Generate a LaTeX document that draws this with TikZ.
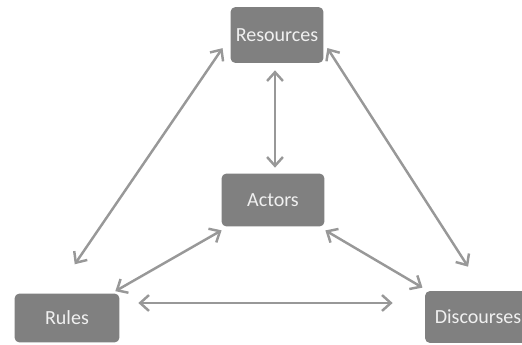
\documentclass[tikz,border=0pt]{standalone}
\usepackage{fontspec}
\setmainfont{Carlito}
\usetikzlibrary{calc,arrows.meta}

\definecolor{boxgray}{RGB}{128,128,128}
\definecolor{arrowgray}{RGB}{152,152,152}

\begin{document}
\begin{tikzpicture}[x=0.02cm, y=-0.02cm,
    box/.style={fill=boxgray, rounded corners=0.1cm, text=white!94!black,
        font=\fontsize{11.4}{13}\selectfont, inner sep=0pt},
    link/.style={draw=arrowgray, line width=1.4pt,
        {Straight Barb[length=5pt,width=9pt]}-{Straight Barb[length=5pt,width=9pt]}}]
    \useasboundingbox (0,0) rectangle (522,345);

    % Boxes
    \node[box, minimum width=1.86cm, minimum height=1.12cm] (res) at (277,35) {Resources};
    \node[box, minimum width=2.06cm, minimum height=1.06cm] (act) at (273,200) {Actors};
    \node[box, minimum width=2.10cm, minimum height=0.98cm] (rul) at (67,318) {Rules};
    \node[box, minimum width=2.12cm, minimum height=1.04cm] (dis) at (478,317) {Discourses};

    % Links
    \draw[link, shorten <=0.14cm, shorten >=0.11cm]
        ($(res.south)+(-2,0)$) -- ($(act.north)+(2,0)$);
    \draw[link, shorten <=0.27cm, shorten >=0.70cm]
        ($(res.west)+(0,2)$) -- ($(rul.north)+(-12,0)$);
    \draw[link, shorten <=0.13cm, shorten >=0.57cm]
        ($(res.east)+(0,7.6)$) -- ($(dis.north)+(5.5,0)$);
    \draw[link, shorten <=0.14cm, shorten >=0.08cm]
        ($(act.south west)+(6.5,0)$) -- ($(rul.north east)+(-8,0)$);
    \draw[link, shorten <=0.14cm, shorten >=0.12cm]
        ($(act.south east)+(-5.5,0)$) -- ($(dis.north west)+(3,0)$);
    \draw[link, shorten <=0.37cm, shorten >=0.64cm]
        ($(rul.east)+(0,-15)$) -- ($(dis.west)+(0,-14)$);
\end{tikzpicture}
\end{document}
